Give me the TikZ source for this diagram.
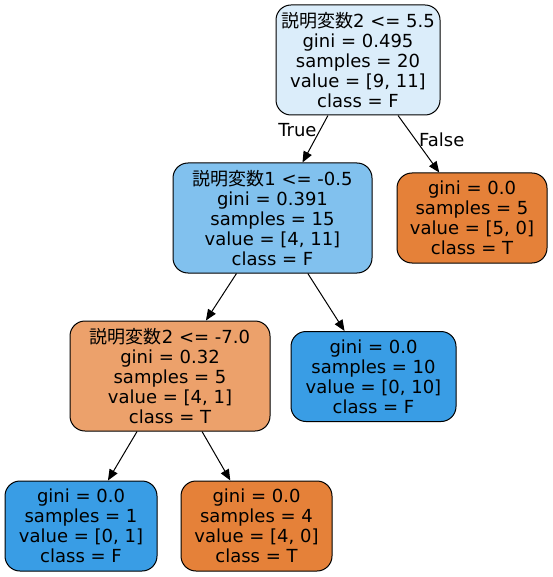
\documentclass[tikz,border=0pt]{standalone}
\usepackage{fontspec}
\setmainfont{DejaVu Sans}
\newfontfamily\cjk{Noto Sans CJK JP}
\usetikzlibrary{positioning, arrows.meta, shapes}

\definecolor{rootc}{RGB}{219,237,250}
\definecolor{bluemid}{RGB}{129,193,238}
\definecolor{orangemid}{RGB}{236,161,107}
\definecolor{orangefull}{RGB}{229,129,57}
\definecolor{bluefull}{RGB}{57,157,229}

\tikzset{
  box/.style={draw, rectangle, rounded corners=15pt, align=center, line width=1pt,
    font=\fontsize{18}{20}\selectfont, inner sep=0pt},
  split/.style={box, minimum height=110pt},
  leaf/.style={box, minimum height=90pt},
  >={Triangle[length=11pt,width=9pt]}
}

\begin{document}
\begin{tikzpicture}[x=1pt, y=-1pt]
                    \useasboundingbox (0,0) rectangle (552,577);

                    \node[split, fill=rootc, minimum width=164pt] (0) at (358,60) {{\cjk 説明変数}2 <= 5.5\\gini = 0.495\\samples = 20\\value = [9, 11]\\class = F};

                    \node[split, fill=bluemid, minimum width=199pt] (1) at (272.5,218) {{\cjk 説明変数}1 <= -0.5\\gini = 0.391\\samples = 15\\value = [4, 11]\\class = F};
                    \node[leaf, fill=orangefull, minimum width=150pt] (2) at (472,218) {gini = 0.0\\samples = 5\\value = [5, 0]\\class = T};

                    \node[split, fill=orangemid, minimum width=200pt] (11) at (170,376) {{\cjk 説明変数}2 <= -7.0\\gini = 0.32\\samples = 5\\value = [4, 1]\\class = T};
                    \node[leaf, fill=bluefull, minimum width=165pt] (12) at (373.5,376.5) {gini = 0.0\\samples = 10\\value = [0, 10]\\class = F};

                    \node[leaf, fill=bluefull, minimum width=152pt] (111) at (81,526) {gini = 0.0\\samples = 1\\value = [0, 1]\\class = F};
                    \node[leaf, fill=orangefull, minimum width=151pt] (112) at (256.5,526) {gini = 0.0\\samples = 4\\value = [4, 0]\\class = T};

                    \draw[line width=1pt] (0) edge[->] node[left, pos=0.3, font=\fontsize{18}{20}\selectfont] {True} (1);
                    \draw[line width=1pt] (0) edge[->] node[right, pos=0.42, font=\fontsize{18}{20}\selectfont] {False} (2);
                    \draw[line width=1pt] (1) edge[->] (11);
                    \draw[line width=1pt] (1) edge[->] (12);
                    \draw[line width=1pt] (11) edge[->] (111);
                    \draw[line width=1pt] (11) edge[->] (112);
                \end{tikzpicture}
\end{document}
